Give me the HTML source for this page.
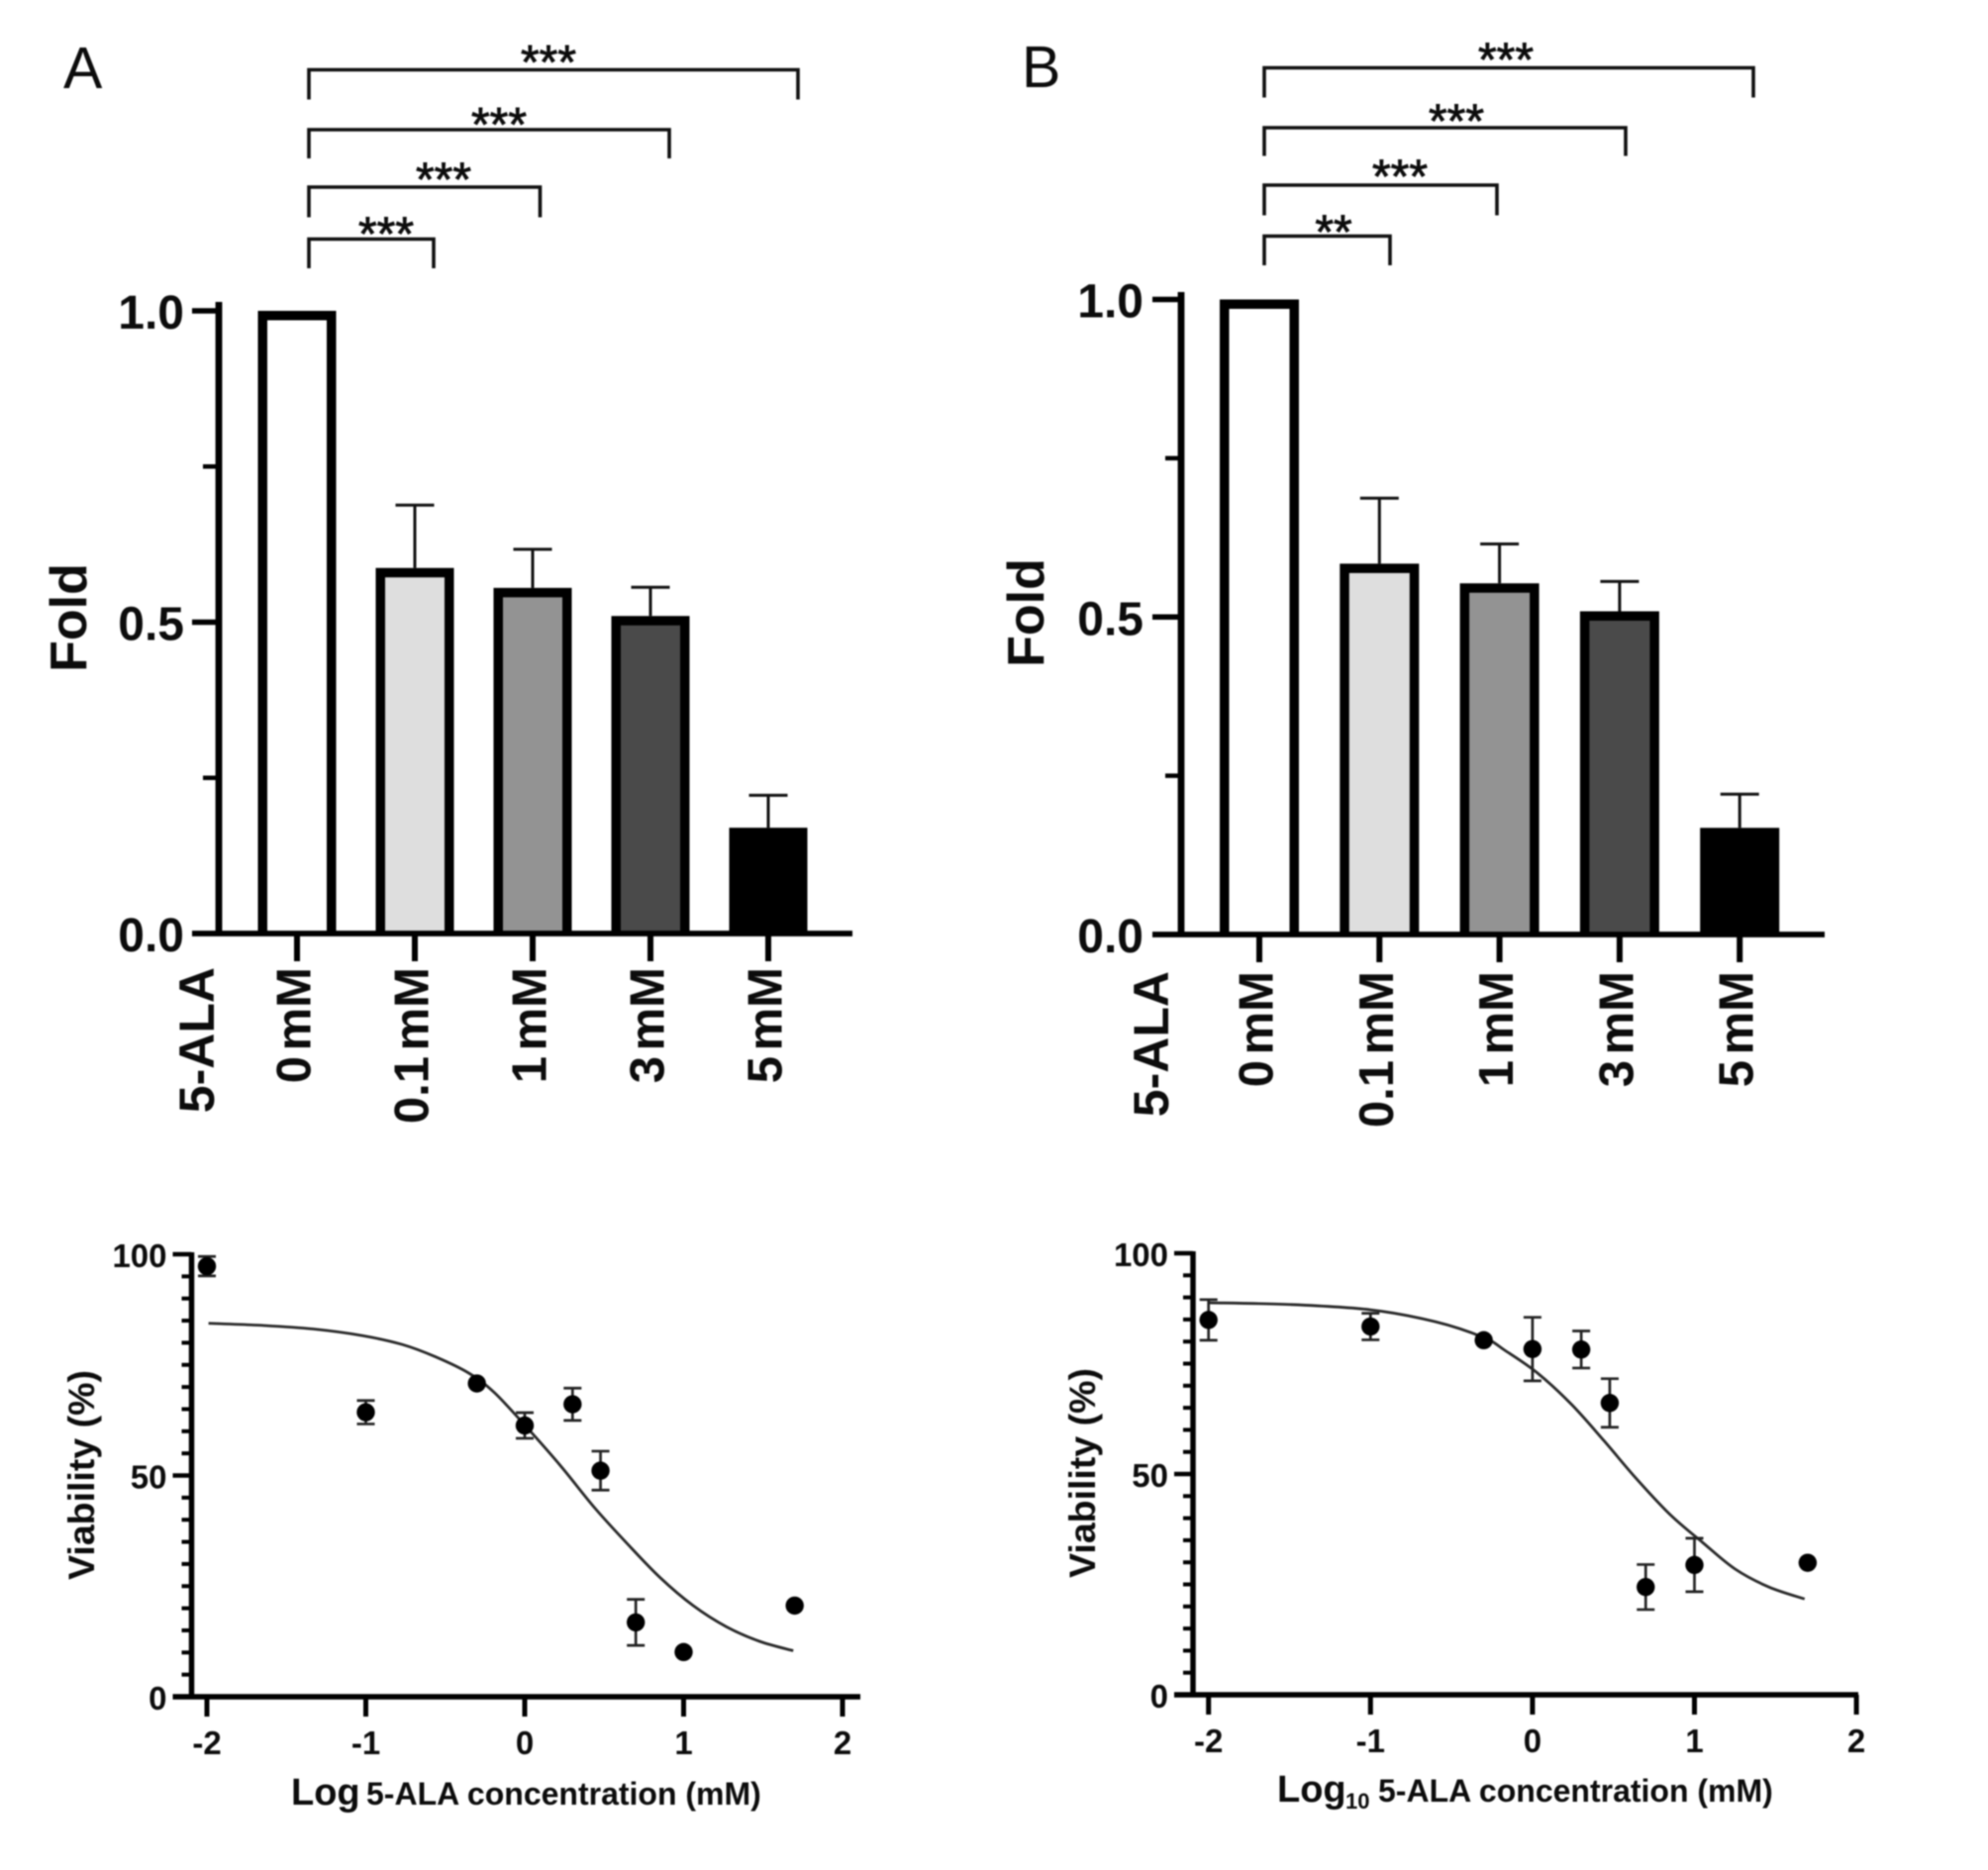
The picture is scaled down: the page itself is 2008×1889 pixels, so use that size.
<!DOCTYPE html>
<html lang="en">
<head>
<meta charset="utf-8">
<title>5-ALA fold change and viability</title>
<style>
html,body{margin:0;padding:0;background:#fff;}
#figure{display:block;width:2008px;height:1889px;background:#fff;filter:blur(0.8px);}
text{font-family:"Liberation Sans",sans-serif;fill:#0c0c0c;}
.b{font-weight:bold;}
</style>
</head>
<body>
<svg id="figure" xmlns="http://www.w3.org/2000/svg" width="2008" height="1889" viewBox="0 0 2008 1889"></svg>
<script>
// ---- bar chart data ----
const barCategories = ['0 mM', '0.1 mM', '1 mM', '3 mM', '5 mM'];
const barColors = ['#ffffff', '#dedede', '#939393', '#4a4a4a', '#000000'];
const barValuesA = [1.0, 0.587, 0.555, 0.51, 0.17];
const barErrorsA = [0, 0.101, 0.062, 0.046, 0.052];
const barValuesB = [1.0, 0.584, 0.553, 0.509, 0.168];
const barErrorsB = [0, 0.103, 0.062, 0.047, 0.053];
const barTickLabels = ['0.0', '0.5', '1.0'];
const barTickValues = [0, 0.5, 1];
const barMinorTickValues = [0.25, 0.75];
const significanceA = ['***', '***', '***', '***'];
const significanceB = ['**', '***', '***', '***'];

// ---- dose-response data ----
const logConcentrations = [-2, -1, -0.301, 0, 0.301, 0.477, 0.699, 1, 1.699];
const viabilityA = [97.3, 64.3, 70.8, 61.3, 66.1, 51.1, 16.8, 10.1, 20.6];
const viabilityErrA = [2.2, 2.65, 0, 2.9, 3.65, 4.4, 5.2, 0, 0];
const viabilityB = [84.9, 83.4, 80.3, 78.3, 78.2, 66.1, 24.4, 29.4, 29.9];
const viabilityErrB = [4.6, 3, 0, 7.2, 4.2, 5.5, 5.1, 6.05, 0];
const curveXA = [-1.99, -1.64, -1.33, -1.02, -0.77, -0.56, -0.35, -0.19, 0.02, 0.23, 0.44, 0.64, 0.85, 1.06, 1.27, 1.48, 1.69];
const curveYA = [84.4, 83.9, 83.1, 81.6, 79.6, 76.8, 73.1, 68.7, 60.6, 52.0, 42.7, 34.8, 27.0, 20.6, 15.8, 12.5, 10.4];
const curveXB = [-2, -1.5, -1, -0.6, -0.3, -0.17, 0.03, 0.24, 0.44, 0.64, 0.85, 1.05, 1.25, 1.46, 1.68];
const curveYB = [88.8, 88.4, 87.2, 84.5, 80.9, 78.0, 72.9, 65.8, 57.6, 49.0, 40.8, 34.5, 28.5, 24.4, 21.7];
const xTickValues = [-2, -1, 0, 1, 2];
const xTickLabels = ['-2', '-1', '0', '1', '2'];
const yTickValues = [0, 50, 100];
const yTickLabels = ['0', '50', '100'];
const yMinorTickValues = [5, 10, 15, 20, 25, 30, 35, 40, 45, 55, 60, 65, 70, 75, 80, 85, 90, 95];

const svg = document.getElementById('figure');
function mk(tag, parent, attrs, txt) {
  const el = document.createElementNS('http://www.w3.org/2000/svg', tag);
  for (const k in attrs) el.setAttribute(k, attrs[k]);
  if (txt !== undefined) el.textContent = txt;
  parent.appendChild(el);
  return el;
}
function tag(el, name) {
  
  
  return el;
}

function drawBarPanel(p) {
  const g = tag(mk('g', svg, {}), 'bar-panel-' + p.id);
  const yS = v => p.y0 - v * p.yLen;
  const xS = i => p.x0 + i * p.step;
  tag(mk('text', g, {x: p.letterX, y: p.letterY, 'font-size': 59}, p.id), 'panel-label-' + p.id);

  // brackets
  p.bracketRight.forEach((rx, i) => {
    const bg = tag(mk('g', g, {}), 'significance-bracket-' + (i + 1));
    tag(mk('path', bg, {d: 'M' + p.bracketLeft + ' ' + p.bracketDrop[i] + 'V' + p.bracketY[i] + 'H' + rx + 'V' + p.bracketDrop[i], fill: 'none', stroke: '#111', 'stroke-width': 3.6}), 'bracket-line');
    tag(mk('text', bg, {x: p.starX[i], y: p.starY[i] + 24.5, 'font-size': 48, 'text-anchor': 'middle', stroke: '#111', 'stroke-width': 0.9}, p.stars[i]), 'significance-stars');
  });

  // bars: open-bottomed outline so only the axis line closes each bar
  p.values.forEach((v, i) => {
    const cx = xS(i), sw = 9.5, w = p.barW;
    if (p.errors[i] > 0) {
      const top = yS(v + p.errors[i]);
      tag(mk('path', g, {d: 'M' + cx + ' ' + yS(v) + 'V' + top + 'M' + (cx - 19.5) + ' ' + top + 'H' + (cx + 19.5), fill: 'none', stroke: '#111', 'stroke-width': 3}), 'error-bar-' + i);
    }
    const l = cx - w / 2 + sw / 2, r = cx + w / 2 - sw / 2, t = yS(v) + sw / 2;
    tag(mk('path', g, {d: 'M' + l + ' ' + yS(0) + 'V' + t + 'H' + r + 'V' + yS(0), fill: barColors[i], stroke: '#000', 'stroke-width': sw}), 'bar-' + barCategories[i].replace(/[ .]/g, ''));
  });

  // axes
  tag(mk('line', g, {x1: p.axisX, x2: p.axisX, y1: p.axisTop, y2: p.y0 + 2, stroke: '#000', 'stroke-width': 6.8}), 'y-axis-line');
  tag(mk('line', g, {x1: p.tickLeft, x2: p.axisRight, y1: p.y0, y2: p.y0, stroke: '#000', 'stroke-width': 5.8}), 'x-axis-line');
  barTickValues.forEach((v, i) => {
    if (v > 0) tag(mk('line', g, {x1: p.tickLeft, x2: p.axisX, y1: yS(v), y2: yS(v), stroke: '#000', 'stroke-width': 5.5}), 'y-tick');
    tag(mk('text', g, {x: p.tickLabelRight, y: yS(v) + 18, 'font-size': 48, 'text-anchor': 'end', class: 'b'}, barTickLabels[i]), 'y-tick-label');
  });
  barMinorTickValues.forEach(v => {
    tag(mk('line', g, {x1: p.axisX - 16, x2: p.axisX, y1: yS(v), y2: yS(v), stroke: '#000', 'stroke-width': 4.5}), 'y-minor-tick');
  });
  barCategories.forEach((c, i) => {
    tag(mk('line', g, {x1: xS(i), x2: xS(i), y1: p.y0, y2: p.y0 + 28, stroke: '#000', 'stroke-width': 6}), 'x-tick');
    const bx = xS(i) + 13.5;
    tag(mk('text', g, {transform: 'translate(' + bx + ' ' + p.labelTop + ') rotate(-90)', 'font-size': 49, 'text-anchor': 'end', 'word-spacing': '-8px', class: 'b'}, c), 'x-tick-label');
  });
  tag(mk('text', g, {transform: 'translate(' + p.aleX + ' ' + p.labelTop + ') rotate(-90)', 'font-size': 50, 'text-anchor': 'end', class: 'b'}, '5-ALA'), 'x-group-label');
  tag(mk('text', g, {transform: 'translate(' + p.foldX + ' ' + p.foldY + ') rotate(-90)', 'font-size': 52, 'text-anchor': 'middle', class: 'b'}, 'Fold'), 'y-axis-title');
}

function smoothPath(pts) {
  let d = 'M' + pts[0][0] + ' ' + pts[0][1];
  for (let i = 0; i < pts.length - 1; i++) {
    const a = pts[Math.max(i - 1, 0)], b = pts[i], c = pts[i + 1], e = pts[Math.min(i + 2, pts.length - 1)];
    d += 'C' + (b[0] + (c[0] - a[0]) / 6) + ' ' + (b[1] + (c[1] - a[1]) / 6) + ' ' + (c[0] - (e[0] - b[0]) / 6) + ' ' + (c[1] - (e[1] - b[1]) / 6) + ' ' + c[0] + ' ' + c[1];
  }
  return d;
}

function drawDosePanel(p) {
  const g = tag(mk('g', svg, {}), 'dose-response-panel-' + p.id);
  const xS = v => p.x0 + (v + 2) * p.xUnit;
  const yS = v => p.y0 - v * p.yUnit;
  tag(mk('line', g, {x1: p.axisX, x2: p.axisX, y1: yS(100) - 2, y2: p.y0 + 2, stroke: '#000', 'stroke-width': 5.5}), 'y-axis-line');
  tag(mk('line', g, {x1: p.axisX - 19, x2: p.axisRight, y1: p.y0, y2: p.y0, stroke: '#000', 'stroke-width': 5.5}), 'x-axis-line');
  yTickValues.forEach((v, i) => {
    if (v > 0) tag(mk('line', g, {x1: p.axisX - 19, x2: p.axisX, y1: yS(v), y2: yS(v), stroke: '#000', 'stroke-width': 4.5}), 'y-tick');
    tag(mk('text', g, {x: p.axisX - 25, y: yS(v) + 13, 'font-size': 33, 'text-anchor': 'end', class: 'b'}, yTickLabels[i]), 'y-tick-label');
  });
  yMinorTickValues.forEach(v => {
    tag(mk('line', g, {x1: p.axisX - 10, x2: p.axisX, y1: yS(v), y2: yS(v), stroke: '#000', 'stroke-width': 4}), 'y-minor-tick');
  });
  xTickValues.forEach((v, i) => {
    tag(mk('line', g, {x1: xS(v), x2: xS(v), y1: p.y0, y2: p.y0 + 20, stroke: '#000', 'stroke-width': 5}), 'x-tick');
    tag(mk('text', g, {x: xS(v), y: p.y0 + 58, 'font-size': 33, 'text-anchor': 'middle', class: 'b'}, xTickLabels[i]), 'x-tick-label');
  });
  const pts = p.curveX.map((x, i) => [xS(x), yS(p.curveY[i])]);
  tag(mk('path', g, {d: smoothPath(pts), fill: 'none', stroke: '#2a2a2a', 'stroke-width': 2.8}), 'fit-curve');
  logConcentrations.forEach((x, i) => {
    const cx = xS(x), cy = yS(p.vals[i]), e = p.errs[i];
    if (e > 0) {
      const t = yS(p.vals[i] + e), b = yS(p.vals[i] - e);
      tag(mk('path', g, {d: 'M' + cx + ' ' + t + 'V' + b + 'M' + (cx - 9) + ' ' + t + 'H' + (cx + 9) + 'M' + (cx - 9) + ' ' + b + 'H' + (cx + 9), fill: 'none', stroke: '#222', 'stroke-width': 2.7}), 'error-bar');
    }
    tag(mk('circle', g, {cx: cx, cy: cy, r: 9.2, fill: '#000'}), 'data-point');
  });
  tag(mk('text', g, {transform: 'translate(' + p.vX + ' ' + p.vY + ') rotate(-90)', 'font-size': 37.5, 'text-anchor': 'middle', class: 'b'}, 'Viability (%)'), 'y-axis-title');
  const t = tag(mk('g', g, {}), 'x-axis-title');
  mk('text', t, {x: p.logX, y: p.titleY, 'font-size': 38, class: 'b'}, 'Log');
  if (p.sub) mk('text', t, {x: p.logX + 69, y: p.titleY + 7, 'font-size': 22, class: 'b'}, p.sub);
  mk('text', t, {x: p.restX, y: p.titleY, 'font-size': 32, class: 'b'}, '5-ALA concentration (mM)');
}

drawBarPanel({
  id: 'A', letterX: 64, letterY: 89, values: barValuesA, errors: barErrorsA, stars: significanceA,
  y0: 943, yLen: 629, x0: 300, step: 119, barW: 79, axisX: 221, axisTop: 305, tickLeft: 194, axisRight: 861,
  tickLabelRight: 186, labelTop: 977, aleX: 216, foldX: 87, foldY: 624,
  bracketLeft: 312, bracketRight: [438, 545.5, 676, 806], bracketY: [241.5, 189, 131, 70.5], bracketDrop: [271, 219.5, 160, 100.5],
  starX: [390, 448, 504, 554], starY: [228, 173, 117.5, 54.5]
});
drawBarPanel({
  id: 'B', letterX: 1032, letterY: 88, values: barValuesB, errors: barErrorsB, stars: significanceB,
  y0: 944, yLen: 641.5, x0: 1272, step: 121.3, barW: 80, axisX: 1193, axisTop: 295, tickLeft: 1164, axisRight: 1843,
  tickLabelRight: 1155, labelTop: 981, aleX: 1180, foldX: 1054, foldY: 619,
  bracketLeft: 1277, bracketRight: [1404, 1512, 1642, 1771], bracketY: [238.5, 187, 129, 68.5], bracketDrop: [268, 217.5, 157.5, 98.5],
  starX: [1347, 1414, 1471, 1521], starY: [226, 170, 114, 52]
});
drawDosePanel({
  id: 'C', vals: viabilityA, errs: viabilityErrA, curveX: curveXA, curveY: curveYA,
  x0: 209, xUnit: 160.5, y0: 1714, yUnit: 4.47, axisX: 193.5, axisRight: 869,
  vX: 95, vY: 1490, logX: 294, restX: 370, titleY: 1823, sub: ''
});
drawDosePanel({
  id: 'D', vals: viabilityB, errs: viabilityErrB, curveX: curveXB, curveY: curveYB,
  x0: 1220.7, xUnit: 163.6, y0: 1712, yUnit: 4.46, axisX: 1205, axisRight: 1877,
  vX: 1106, vY: 1488, logX: 1290, restX: 1392, titleY: 1820, sub: '10'
});
</script>
</body>
</html>
